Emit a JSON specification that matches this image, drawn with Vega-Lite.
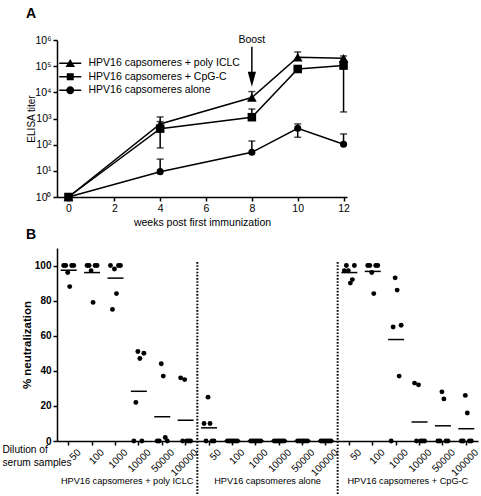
{
  "$schema": "https://vega.github.io/schema/vega-lite/v6.json",
  "padding": {"left": 2, "top": 6, "right": 0, "bottom": 0},
  "spacing": 0,
  "config": {
    "font": "Liberation Sans",
    "view": {"stroke": null},
    "axis": {"domainColor": "black", "tickColor": "black", "labelColor": "black", "titleColor": "black", "grid": false, "domainWidth": 1.5, "tickWidth": 1.5, "tickSize": 4, "titleFontWeight": "normal", "labelOverlap": false}
  },
  "datasets": {
    "elisa": [
      {"series": "HPV16 capsomeres + poly ICLC", "week": 0, "titer": 1},
      {"series": "HPV16 capsomeres + poly ICLC", "week": 4, "titer": 620},
      {"series": "HPV16 capsomeres + poly ICLC", "week": 8, "titer": 6300},
      {"series": "HPV16 capsomeres + poly ICLC", "week": 10, "titer": 219000},
      {"series": "HPV16 capsomeres + poly ICLC", "week": 12, "titer": 200000},
      {"series": "HPV16 capsomeres + CpG-C", "week": 0, "titer": 1},
      {"series": "HPV16 capsomeres + CpG-C", "week": 4, "titer": 410},
      {"series": "HPV16 capsomeres + CpG-C", "week": 8, "titer": 1120},
      {"series": "HPV16 capsomeres + CpG-C", "week": 10, "titer": 78000},
      {"series": "HPV16 capsomeres + CpG-C", "week": 12, "titer": 105000},
      {"series": "HPV16 capsomeres alone", "week": 0, "titer": 1},
      {"series": "HPV16 capsomeres alone", "week": 4, "titer": 9.3},
      {"series": "HPV16 capsomeres alone", "week": 8, "titer": 51},
      {"series": "HPV16 capsomeres alone", "week": 10, "titer": 425},
      {"series": "HPV16 capsomeres alone", "week": 12, "titer": 104}
    ],
    "err": [
      {"series": "HPV16 capsomeres + poly ICLC", "week": 4, "titer": 620, "end": 1150},
      {"series": "HPV16 capsomeres + poly ICLC", "week": 8, "titer": 6300, "end": 10700},
      {"series": "HPV16 capsomeres + poly ICLC", "week": 10, "titer": 219000, "end": 350000},
      {"series": "HPV16 capsomeres + poly ICLC", "week": 12, "titer": 200000, "end": 245000},
      {"series": "HPV16 capsomeres + CpG-C", "week": 4, "titer": 410, "end": 760},
      {"series": "HPV16 capsomeres + CpG-C", "week": 4, "titer": 410, "end": 75},
      {"series": "HPV16 capsomeres + CpG-C", "week": 8, "titer": 1120, "end": 2300},
      {"series": "HPV16 capsomeres + CpG-C", "week": 12, "titer": 105000, "end": 1780},
      {"series": "HPV16 capsomeres alone", "week": 4, "titer": 9.3, "end": 28},
      {"series": "HPV16 capsomeres alone", "week": 8, "titer": 51, "end": 138},
      {"series": "HPV16 capsomeres alone", "week": 10, "titer": 425, "end": 620},
      {"series": "HPV16 capsomeres alone", "week": 10, "titer": 425, "end": 192},
      {"series": "HPV16 capsomeres alone", "week": 12, "titer": 104, "end": 257}
    ],
    "neut": [
      {"column": "poly ICLC|50", "mouse": 1, "value": 100},
      {"column": "poly ICLC|50", "mouse": 2, "value": 100},
      {"column": "poly ICLC|50", "mouse": 3, "value": 96},
      {"column": "poly ICLC|50", "mouse": 4, "value": 88},
      {"column": "poly ICLC|50", "mouse": 5, "value": 100},
      {"column": "poly ICLC|50", "mouse": 6, "value": 100},
      {"column": "poly ICLC|100", "mouse": 1, "value": 100},
      {"column": "poly ICLC|100", "mouse": 2, "value": 100},
      {"column": "poly ICLC|100", "mouse": 3, "value": 97},
      {"column": "poly ICLC|100", "mouse": 4, "value": 79},
      {"column": "poly ICLC|100", "mouse": 5, "value": 100},
      {"column": "poly ICLC|100", "mouse": 6, "value": 100},
      {"column": "poly ICLC|1000", "mouse": 1, "value": 100},
      {"column": "poly ICLC|1000", "mouse": 2, "value": 75},
      {"column": "poly ICLC|1000", "mouse": 3, "value": 98},
      {"column": "poly ICLC|1000", "mouse": 4, "value": 84},
      {"column": "poly ICLC|1000", "mouse": 5, "value": 100},
      {"column": "poly ICLC|1000", "mouse": 6, "value": 100},
      {"column": "poly ICLC|10000", "mouse": 1, "value": 0},
      {"column": "poly ICLC|10000", "mouse": 2, "value": 22},
      {"column": "poly ICLC|10000", "mouse": 3, "value": 51},
      {"column": "poly ICLC|10000", "mouse": 4, "value": 47},
      {"column": "poly ICLC|10000", "mouse": 5, "value": 0},
      {"column": "poly ICLC|10000", "mouse": 6, "value": 50},
      {"column": "poly ICLC|50000", "mouse": 1, "value": 0},
      {"column": "poly ICLC|50000", "mouse": 2, "value": 0},
      {"column": "poly ICLC|50000", "mouse": 3, "value": 44},
      {"column": "poly ICLC|50000", "mouse": 4, "value": 37},
      {"column": "poly ICLC|50000", "mouse": 5, "value": 2},
      {"column": "poly ICLC|50000", "mouse": 6, "value": 0},
      {"column": "poly ICLC|100000", "mouse": 1, "value": 36},
      {"column": "poly ICLC|100000", "mouse": 2, "value": 0},
      {"column": "poly ICLC|100000", "mouse": 3, "value": 35},
      {"column": "poly ICLC|100000", "mouse": 4, "value": 0},
      {"column": "poly ICLC|100000", "mouse": 5, "value": 0},
      {"column": "poly ICLC|100000", "mouse": 6, "value": 0},
      {"column": "alone|50", "mouse": 1, "value": 10},
      {"column": "alone|50", "mouse": 2, "value": 0},
      {"column": "alone|50", "mouse": 3, "value": 25},
      {"column": "alone|50", "mouse": 4, "value": 10},
      {"column": "alone|50", "mouse": 5, "value": 0},
      {"column": "alone|50", "mouse": 6, "value": 0},
      {"column": "alone|100", "mouse": 1, "value": 0},
      {"column": "alone|100", "mouse": 2, "value": 0},
      {"column": "alone|100", "mouse": 3, "value": 0},
      {"column": "alone|100", "mouse": 4, "value": 0},
      {"column": "alone|100", "mouse": 5, "value": 0},
      {"column": "alone|100", "mouse": 6, "value": 0},
      {"column": "alone|1000", "mouse": 1, "value": 0},
      {"column": "alone|1000", "mouse": 2, "value": 0},
      {"column": "alone|1000", "mouse": 3, "value": 0},
      {"column": "alone|1000", "mouse": 4, "value": 0},
      {"column": "alone|1000", "mouse": 5, "value": 0},
      {"column": "alone|1000", "mouse": 6, "value": 0},
      {"column": "alone|10000", "mouse": 1, "value": 0},
      {"column": "alone|10000", "mouse": 2, "value": 0},
      {"column": "alone|10000", "mouse": 3, "value": 0},
      {"column": "alone|10000", "mouse": 4, "value": 0},
      {"column": "alone|10000", "mouse": 5, "value": 0},
      {"column": "alone|10000", "mouse": 6, "value": 0},
      {"column": "alone|50000", "mouse": 1, "value": 0},
      {"column": "alone|50000", "mouse": 2, "value": 0},
      {"column": "alone|50000", "mouse": 3, "value": 0},
      {"column": "alone|50000", "mouse": 4, "value": 0},
      {"column": "alone|50000", "mouse": 5, "value": 0},
      {"column": "alone|50000", "mouse": 6, "value": 0},
      {"column": "alone|100000", "mouse": 1, "value": 0},
      {"column": "alone|100000", "mouse": 2, "value": 0},
      {"column": "alone|100000", "mouse": 3, "value": 0},
      {"column": "alone|100000", "mouse": 4, "value": 0},
      {"column": "alone|100000", "mouse": 5, "value": 0},
      {"column": "alone|100000", "mouse": 6, "value": 0},
      {"column": "CpG-C|50", "mouse": 1, "value": 97},
      {"column": "CpG-C|50", "mouse": 2, "value": 100},
      {"column": "CpG-C|50", "mouse": 3, "value": 97},
      {"column": "CpG-C|50", "mouse": 4, "value": 90},
      {"column": "CpG-C|50", "mouse": 5, "value": 92},
      {"column": "CpG-C|50", "mouse": 6, "value": 100},
      {"column": "CpG-C|100", "mouse": 1, "value": 100},
      {"column": "CpG-C|100", "mouse": 2, "value": 100},
      {"column": "CpG-C|100", "mouse": 3, "value": 96},
      {"column": "CpG-C|100", "mouse": 4, "value": 84},
      {"column": "CpG-C|100", "mouse": 5, "value": 100},
      {"column": "CpG-C|100", "mouse": 6, "value": 100},
      {"column": "CpG-C|1000", "mouse": 1, "value": 0},
      {"column": "CpG-C|1000", "mouse": 2, "value": 65},
      {"column": "CpG-C|1000", "mouse": 3, "value": 93},
      {"column": "CpG-C|1000", "mouse": 4, "value": 86},
      {"column": "CpG-C|1000", "mouse": 5, "value": 37},
      {"column": "CpG-C|1000", "mouse": 6, "value": 66},
      {"column": "CpG-C|10000", "mouse": 1, "value": 33},
      {"column": "CpG-C|10000", "mouse": 2, "value": 0},
      {"column": "CpG-C|10000", "mouse": 3, "value": 32},
      {"column": "CpG-C|10000", "mouse": 4, "value": 0},
      {"column": "CpG-C|10000", "mouse": 5, "value": 0},
      {"column": "CpG-C|10000", "mouse": 6, "value": 0},
      {"column": "CpG-C|50000", "mouse": 1, "value": 0},
      {"column": "CpG-C|50000", "mouse": 2, "value": 0},
      {"column": "CpG-C|50000", "mouse": 3, "value": 28},
      {"column": "CpG-C|50000", "mouse": 4, "value": 24},
      {"column": "CpG-C|50000", "mouse": 5, "value": 0},
      {"column": "CpG-C|50000", "mouse": 6, "value": 0},
      {"column": "CpG-C|100000", "mouse": 1, "value": 0},
      {"column": "CpG-C|100000", "mouse": 2, "value": 0},
      {"column": "CpG-C|100000", "mouse": 3, "value": 26},
      {"column": "CpG-C|100000", "mouse": 4, "value": 16},
      {"column": "CpG-C|100000", "mouse": 5, "value": 0},
      {"column": "CpG-C|100000", "mouse": 6, "value": 0}
    ],
    "groups": [
      {"column": "poly ICLC|10000", "label": "HPV16 capsomeres + poly ICLC"},
      {"column": "alone|10000", "label": "HPV16 capsomeres alone"},
      {"column": "CpG-C|10000", "label": "HPV16 capsomeres + CpG-C"}
    ],
    "seps": [
      {"column": "alone|50"},
      {"column": "CpG-C|50"}
    ]
  },
  "vconcat": [
    {
      "width": 290,
      "height": 157,
      "title": {"text": "A", "anchor": "start", "frame": "group", "fontSize": 14, "fontWeight": "bold", "dx": -31, "offset": 14},
      "layer": [
        {
          "data": {"name": "elisa"},
          "mark": {"type": "line", "color": "black", "strokeWidth": 1.5},
          "encoding": {
            "x": {"field": "week", "type": "quantitative", "scale": {"domain": [-0.5, 12.15], "nice": false, "zero": false},
                  "axis": {"values": [0, 2, 4, 6, 8, 10, 12], "title": "weeks post first immunization", "labelFontSize": 10.5, "titleFontSize": 10.5, "titlePadding": 4, "labelPadding": 2}},
            "y": {"field": "titer", "type": "quantitative", "scale": {"type": "log", "domain": [1, 1000000], "nice": false},
                  "axis": {"values": [1, 10, 100, 1000, 10000, 100000, 1000000], "title": "ELISA titer", "labelFontSize": 10.5, "titleFontSize": 10, "titlePadding": -2, "labelPadding": 2,
                           "labelExpr": "'10' + ['⁰','¹','²','³','⁴','⁵','⁶'][round(log(datum.value)/LN10)]"}},
            "detail": {"field": "series"}
          }
        },
        {
          "data": {"name": "err"},
          "mark": {"type": "rule", "color": "black", "strokeWidth": 1.5},
          "encoding": {
            "x": {"field": "week", "type": "quantitative"},
            "y": {"field": "titer", "type": "quantitative"},
            "y2": {"field": "end"}
          }
        },
        {
          "data": {"name": "err"},
          "mark": {"type": "tick", "orient": "horizontal", "size": 7, "thickness": 1.5, "color": "black"},
          "encoding": {
            "x": {"field": "week", "type": "quantitative"},
            "y": {"field": "end", "type": "quantitative"}
          }
        },
        {
          "data": {"name": "elisa"},
          "mark": {"type": "point", "filled": true, "color": "black", "opacity": 1},
          "encoding": {
            "x": {"field": "week", "type": "quantitative"},
            "y": {"field": "titer", "type": "quantitative"},
            "shape": {"field": "series", "type": "nominal", "legend": null,
                      "scale": {"domain": ["HPV16 capsomeres + poly ICLC", "HPV16 capsomeres + CpG-C", "HPV16 capsomeres alone"], "range": ["triangle-up", "square", "circle"]}},
            "size": {"field": "series", "type": "nominal", "legend": null,
                     "scale": {"domain": ["HPV16 capsomeres + poly ICLC", "HPV16 capsomeres + CpG-C", "HPV16 capsomeres alone"], "range": [95, 50, 55]}}
          }
        },
        {
          "data": {"name": "elisa"},
          "transform": [{"filter": "datum.week > 100"}],
          "mark": {"type": "point", "filled": true, "color": "black", "opacity": 1, "size": 100},
          "encoding": {
            "x": {"field": "week", "type": "quantitative"},
            "y": {"field": "titer", "type": "quantitative"},
            "shape": {"field": "series", "type": "nominal",
                      "scale": {"domain": ["HPV16 capsomeres + poly ICLC", "HPV16 capsomeres + CpG-C", "HPV16 capsomeres alone"],
                                "range": ["M-2.2,-0.15H2.2V0.15H-2.2ZM0,-0.85L0.95,0.75H-0.95Z", "M-2.2,-0.15H2.2V0.15H-2.2ZM-0.7,-0.7H0.7V0.7H-0.7Z", "M-2.2,-0.15H2.2V0.15H-2.2ZM0.8,0A0.8,0.8,0,1,1,-0.8,0A0.8,0.8,0,1,1,0.8,0Z"]},
                      "legend": {"orient": "none", "legendX": 8, "legendY": 18, "title": null, "labelFontSize": 10.5, "labelOffset": 13, "symbolSize": 100, "symbolStrokeWidth": 0, "symbolFillColor": "black", "rowPadding": 2.5, "padding": 0, "labelLimit": 300, "labelColor": "black",
                                 "encode": {"symbols": {"update": {"fill": {"value": "black"}, "opacity": {"value": 1}, "fillOpacity": {"value": 1}}}}}}
          }
        },
        {
          "data": {"values": [{"label": "Boost"}]},
          "mark": {"type": "rule", "color": "black", "strokeWidth": 1.5},
          "encoding": {
            "x": {"datum": 8, "type": "quantitative"},
            "y": {"datum": 550000, "type": "quantitative"},
            "y2": {"datum": 60000}
          }
        },
        {
          "data": {"values": [{"label": "Boost"}]},
          "mark": {"type": "point", "filled": true, "color": "black", "opacity": 1, "size": 225, "shape": "M-0.55,-1L0.55,-1L0,1Z"},
          "encoding": {
            "x": {"datum": 8, "type": "quantitative"},
            "y": {"datum": 31600, "type": "quantitative"}
          }
        },
        {
          "data": {"values": [{"label": "Boost"}]},
          "mark": {"type": "text", "color": "black", "fontSize": 10.5, "align": "center", "baseline": "alphabetic"},
          "encoding": {
            "x": {"datum": 8, "type": "quantitative"},
            "y": {"datum": 776000, "type": "quantitative"},
            "text": {"field": "label"}
          }
        }
      ],
      "resolve": {"scale": {"shape": "independent", "size": "independent"}}
    },
    {
      "width": 421,
      "height": 193,
      "title": {"text": "B", "anchor": "start", "frame": "group", "fontSize": 14, "fontWeight": "bold", "dx": -31, "offset": 6},
      "layer": [
        {
          "data": {"name": "neut"},
          "mark": {"type": "circle", "color": "black", "opacity": 1, "size": 24},
          "encoding": {
            "x": {"field": "column", "type": "nominal",
                  "scale": {"type": "band", "paddingInner": 0, "paddingOuter": 0,
                            "domain": ["poly ICLC|50", "poly ICLC|100", "poly ICLC|1000", "poly ICLC|10000", "poly ICLC|50000", "poly ICLC|100000",
                                       "alone|50", "alone|100", "alone|1000", "alone|10000", "alone|50000", "alone|100000",
                                       "CpG-C|50", "CpG-C|100", "CpG-C|1000", "CpG-C|10000", "CpG-C|50000", "CpG-C|100000"]},
                  "axis": {"labelExpr": "split(datum.label, '|')[1]", "labelAngle": -45, "labelFontSize": 10, "labelPadding": 2, "labelOffset": 7, "bandPosition": 0.5,
                           "title": ["Dilution of", "serum samples"], "titleX": -55, "titleY": 3, "titleAlign": "left", "titleBaseline": "top", "titleAngle": 0,
                           "titleFontSize": 10.2, "titleLineHeight": 13.5, "titleAnchor": null}},
            "xOffset": {"field": "mouse", "type": "nominal", "scale": {"type": "point", "range": [5.7, 17.7]}},
            "y": {"field": "value", "type": "quantitative", "scale": {"domain": [0, 110], "nice": false},
                  "axis": {"values": [0, 20, 40, 60, 80, 100], "tickCount": 6, "title": "% neutralization", "titleFontWeight": "bold", "titleFontSize": 11.5, "labelFontWeight": "bold", "labelFontSize": 10, "labelPadding": 2, "titlePadding": 2, "labelFlush": false}}
          }
        },
        {
          "data": {"name": "seps"},
          "mark": {"type": "rule", "color": "black", "strokeWidth": 2, "strokeDash": [1.6, 1.6]},
          "encoding": {
            "x": {"field": "column", "type": "nominal", "bandPosition": 0},
            "y": {"datum": 102, "type": "quantitative"},
            "y2": {"datum": -31}
          }
        },
        {
          "data": {"name": "neut"},
          "mark": {"type": "tick", "orient": "horizontal", "size": 16, "thickness": 1.5, "color": "black"},
          "encoding": {
            "x": {"field": "column", "type": "nominal"},
            "y": {"aggregate": "mean", "field": "value", "type": "quantitative"}
          }
        },
        {
          "data": {"name": "groups"},
          "mark": {"type": "text", "color": "black", "fontSize": 9.2, "align": "center", "baseline": "middle"},
          "encoding": {
            "x": {"field": "column", "type": "nominal", "bandPosition": 0},
            "y": {"datum": -22.7, "type": "quantitative"},
            "text": {"field": "label"}
          }
        }
      ]
    }
  ]
}
